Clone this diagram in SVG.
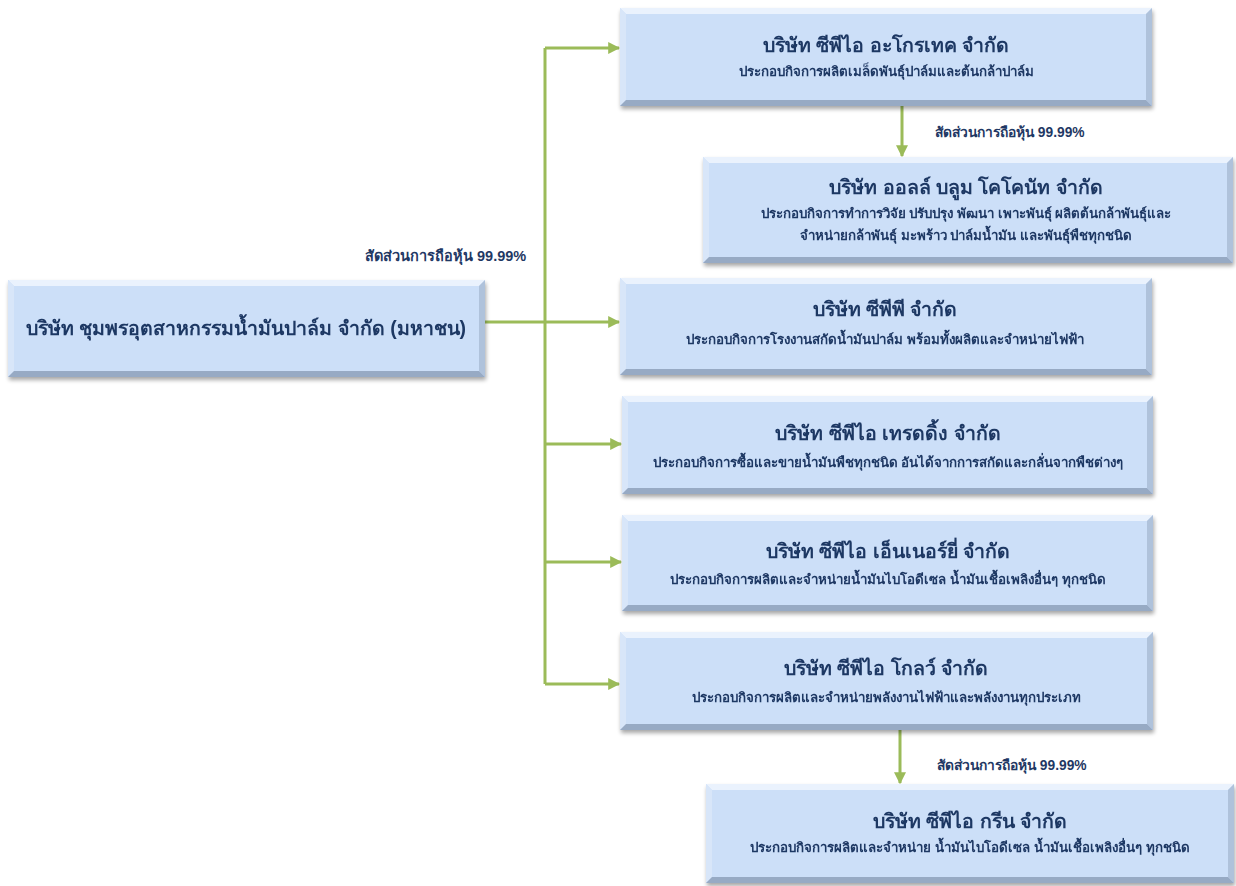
<svg xmlns="http://www.w3.org/2000/svg" width="1236" height="886" viewBox="0 0 1236 886">
<style>
.base{fill:#CCDFF8}
.bt{fill:#EAF2FD}
.bl{fill:#D8E6F9}
.br{fill:#AFC2DB}
.bb{fill:#97AAC4}
.title{font-family:"Liberation Sans","DejaVu Sans",sans-serif;font-weight:bold;font-size:19.5px;fill:#1F3864;text-anchor:middle}
.sub{font-family:"Liberation Sans","DejaVu Sans",sans-serif;font-weight:bold;font-size:13.3px;fill:#1F3864;text-anchor:middle}
.lbl{font-family:"Liberation Sans","DejaVu Sans",sans-serif;font-weight:bold;font-size:13.8px;fill:#1F3864}
.conn{stroke:#9BBB59;stroke-width:3;fill:none}
.sh{filter:url(#shadow)}
</style>
<defs>
<filter id="shadow" x="-5%" y="-10%" width="110%" height="130%">
<feGaussianBlur in="SourceAlpha" stdDeviation="2"/>
<feOffset dx="1" dy="3" result="b"/>
<feComponentTransfer><feFuncA type="linear" slope="0.35"/></feComponentTransfer>
<feMerge><feMergeNode/><feMergeNode in="SourceGraphic"/></feMerge>
</filter>
<marker id="arr" viewBox="0 0 10 10" refX="9" refY="5" markerWidth="4" markerHeight="4" orient="auto" markerUnits="strokeWidth">
<path d="M0,0 L10,5 L0,10 z" fill="#9BBB59"/>
</marker>
</defs>
<rect width="1236" height="886" fill="#FFFFFF"/>

<g id="connectors">
<path class="conn" d="M545,48 L545,684"/>
<path class="conn" d="M545,48 L619,48" marker-end="url(#arr)"/>
<path class="conn" d="M485,322 L619,322" marker-end="url(#arr)"/>
<path class="conn" d="M545,444 L621,444" marker-end="url(#arr)"/>
<path class="conn" d="M545,562 L621,562" marker-end="url(#arr)"/>
<path class="conn" d="M545,684 L619,684" marker-end="url(#arr)"/>
<path class="conn" d="M902,106 L902,156" marker-end="url(#arr)"/>
<path class="conn" d="M900,730 L900,783" marker-end="url(#arr)"/>
</g>

<g id="labels">
<text class="lbl" x="365" y="261" style="font-size:14.5px">สัดส่วนการถือหุ้น 99.99%</text>
<text class="lbl" x="935" y="137">สัดส่วนการถือหุ้น 99.99%</text>
<text class="lbl" x="937" y="770">สัดส่วนการถือหุ้น 99.99%</text>
</g>

<g id="node-main" class="sh">
<rect class="base" x="8" y="280" width="477" height="97"/>
<polygon class="bt" points="8,280 485,280 479,286 14,286"/>
<polygon class="bl" points="8,280 14,286 14,371 8,377"/>
<polygon class="br" points="485,280 485,377 479,371 479,286"/>
<polygon class="bb" points="8,377 485,377 479,371 14,371"/>
<text class="title" x="246" y="335">บริษัท ชุมพรอุตสาหกรรมน้ำมันปาล์ม จำกัด (มหาชน)</text>
</g>

<g id="node-agrotech" class="sh">
<rect class="base" x="620" y="8" width="532" height="98"/>
<polygon class="bt" points="620,8 1152,8 1146,14 626,14"/>
<polygon class="bl" points="620,8 626,14 626,100 620,106"/>
<polygon class="br" points="1152,8 1152,106 1146,100 1146,14"/>
<polygon class="bb" points="620,106 1152,106 1146,100 626,100"/>
<text class="title" x="886" y="52">บริษัท ซีพีไอ อะโกรเทค จำกัด</text>
<text class="sub" x="886" y="76">ประกอบกิจการผลิตเมล็ดพันธุ์ปาล์มและต้นกล้าปาล์ม</text>
</g>

<g id="node-allbloom" class="sh">
<rect class="base" x="703" y="157" width="530" height="106"/>
<polygon class="bt" points="703,157 1233,157 1227,163 709,163"/>
<polygon class="bl" points="703,157 709,163 709,257 703,263"/>
<polygon class="br" points="1233,157 1233,263 1227,257 1227,163"/>
<polygon class="bb" points="703,263 1233,263 1227,257 709,257"/>
<text class="title" x="966" y="194">บริษัท ออลล์ บลูม โคโคนัท จำกัด</text>
<text class="sub" x="966" y="218">ประกอบกิจการทำการวิจัย ปรับปรุง พัฒนา เพาะพันธุ์ ผลิตต้นกล้าพันธุ์และ</text>
<text class="sub" x="966" y="240">จำหน่ายกล้าพันธุ์ มะพร้าว ปาล์มน้ำมัน และพันธุ์พืชทุกชนิด</text>
</g>

<g id="node-cpp" class="sh">
<rect class="base" x="620" y="278" width="532" height="97"/>
<polygon class="bt" points="620,278 1152,278 1146,284 626,284"/>
<polygon class="bl" points="620,278 626,284 626,369 620,375"/>
<polygon class="br" points="1152,278 1152,375 1146,369 1146,284"/>
<polygon class="bb" points="620,375 1152,375 1146,369 626,369"/>
<text class="title" x="885" y="316">บริษัท ซีพีพี จำกัด</text>
<text class="sub" x="885" y="344">ประกอบกิจการโรงงานสกัดน้ำมันปาล์ม พร้อมทั้งผลิตและจำหน่ายไฟฟ้า</text>
</g>

<g id="node-trading" class="sh">
<rect class="base" x="622" y="396" width="531" height="98"/>
<polygon class="bt" points="622,396 1153,396 1147,402 628,402"/>
<polygon class="bl" points="622,396 628,402 628,488 622,494"/>
<polygon class="br" points="1153,396 1153,494 1147,488 1147,402"/>
<polygon class="bb" points="622,494 1153,494 1147,488 628,488"/>
<text class="title" x="888" y="440">บริษัท ซีพีไอ เทรดดิ้ง จำกัด</text>
<text class="sub" x="888" y="467">ประกอบกิจการซื้อและขายน้ำมันพืชทุกชนิด อันได้จากการสกัดและกลั่นจากพืชต่างๆ</text>
</g>

<g id="node-energy" class="sh">
<rect class="base" x="622" y="515" width="531" height="96"/>
<polygon class="bt" points="622,515 1153,515 1147,521 628,521"/>
<polygon class="bl" points="622,515 628,521 628,605 622,611"/>
<polygon class="br" points="1153,515 1153,611 1147,605 1147,521"/>
<polygon class="bb" points="622,611 1153,611 1147,605 628,605"/>
<text class="title" x="888" y="558">บริษัท ซีพีไอ เอ็นเนอร์ยี่ จำกัด</text>
<text class="sub" x="888" y="584">ประกอบกิจการผลิตและจำหน่ายน้ำมันไบโอดีเซล น้ำมันเชื้อเพลิงอื่นๆ ทุกชนิด</text>
</g>

<g id="node-glow" class="sh">
<rect class="base" x="620" y="632" width="533" height="98"/>
<polygon class="bt" points="620,632 1153,632 1147,638 626,638"/>
<polygon class="bl" points="620,632 626,638 626,724 620,730"/>
<polygon class="br" points="1153,632 1153,730 1147,724 1147,638"/>
<polygon class="bb" points="620,730 1153,730 1147,724 626,724"/>
<text class="title" x="886" y="675">บริษัท ซีพีไอ โกลว์ จำกัด</text>
<text class="sub" x="886" y="702">ประกอบกิจการผลิตและจำหน่ายพลังงานไฟฟ้าและพลังงานทุกประเภท</text>
</g>

<g id="node-green" class="sh">
<rect class="base" x="706" y="784" width="528" height="99"/>
<polygon class="bt" points="706,784 1234,784 1228,790 712,790"/>
<polygon class="bl" points="706,784 712,790 712,877 706,883"/>
<polygon class="br" points="1234,784 1234,883 1228,877 1228,790"/>
<polygon class="bb" points="706,883 1234,883 1228,877 712,877"/>
<text class="title" x="970" y="828">บริษัท ซีพีไอ กรีน จำกัด</text>
<text class="sub" x="970" y="852">ประกอบกิจการผลิตและจำหน่าย น้ำมันไบโอดีเซล น้ำมันเชื้อเพลิงอื่นๆ ทุกชนิด</text>
</g>
</svg>
